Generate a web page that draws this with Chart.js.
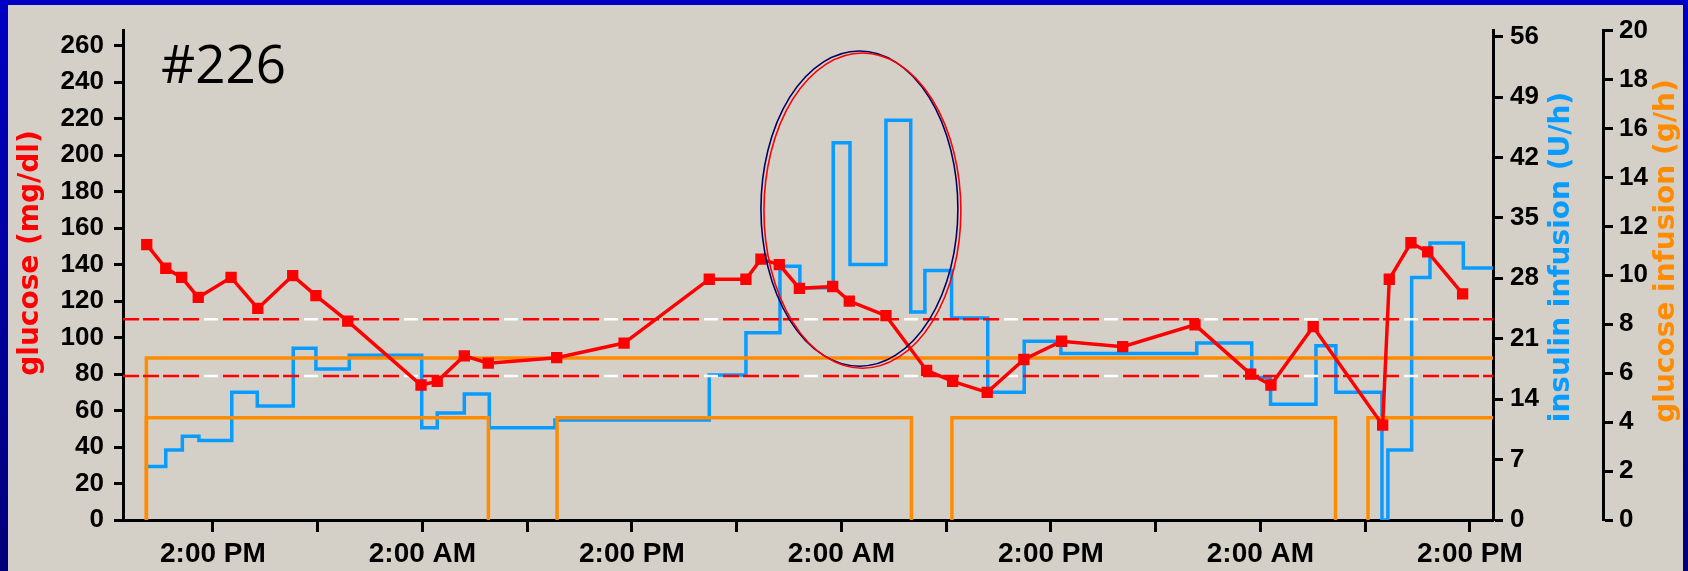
<!DOCTYPE html>
<html>
<head>
<meta charset="utf-8">
<script src="https://cdn.jsdelivr.net/npm/chart.js@4.4.1/dist/chart.umd.min.js"></script>
<style>
  html, body { margin: 0; padding: 0; }
  body {
    width: 1688px; height: 571px; overflow: hidden; position: relative;
    background: linear-gradient(#0000c4, #00007a);
  }
  #panel { position: absolute; left: 8px; top: 5px; width: 1675px; height: 566px; background: #d4d0c8; }
</style>
</head>
<body>
<div id="panel"><canvas id="icuChart"></canvas></div>
<script>
// hours counted from the first 2:00 PM
const glucoseHours = [-3.79, -2.70, -1.79, -0.84, 1.04, 2.57, 4.57, 5.90, 7.72, 11.92, 12.85, 14.40, 15.77,
  19.69, 23.55, 28.43, 30.53, 31.39, 32.44, 33.59, 35.50, 36.45, 38.55, 40.88, 42.37, 44.35, 46.45, 48.61,
  52.11, 56.25, 59.44, 60.60, 63.02, 67.00, 67.38, 68.62, 69.58, 71.58];
const glucoseValues = [151, 138, 133, 122, 133, 116, 134, 123, 109, 74, 76, 90, 86,
  89, 97, 132, 132, 143, 140, 127, 128, 120, 112, 82, 76, 70, 88, 98,
  95, 107, 80, 74, 106, 52, 132, 152, 147, 124];

// insulin infusion (U/h), each rate holds from its start hour to the next one
const insulinHours = [-3.72, -2.70, -1.75, -0.80, 1.08, 2.54, 4.60, 5.90, 7.81, 11.96, 12.85, 14.40, 15.83,
  19.59, 28.43, 30.53, 32.48, 33.62, 35.53, 36.49, 38.55, 39.97, 40.78, 42.31, 44.38, 46.47, 48.57,
  56.35, 59.50, 60.58, 63.18, 64.32, 66.96, 67.30, 68.66, 69.71, 71.62];
const insulinRates = [6.2, 8.1, 9.7, 9.2, 14.8, 13.2, 19.9, 17.5, 19.1, 10.7, 12.4, 14.6, 10.7,
  11.6, 16.8, 21.7, 29.4, 26.9, 43.7, 29.6, 46.3, 24.1, 28.9, 23.4, 14.8, 20.7, 19.3,
  20.5, 16.5, 13.4, 20.2, 14.8, 0, 8.1, 28.1, 32.1, 29.2];

// glucose infusion (g/h)
const feedStart = -3.81;
const feedRate = 6.62;
const dextroseRate = 4.18;
const dextroseOn = [[-3.81, 15.78], [19.71, 40.01], [42.33, 64.30], [66.16, null]];

const targetBand = [110, 79];
const xRange = [-5.15, 73.32];
const xTicks = [0, 6, 12, 18, 24, 30, 36, 42, 48, 54, 60, 66, 72];
const xTickLabels = ["2:00 PM", "", "2:00 AM", "", "2:00 PM", "", "2:00 AM", "", "2:00 PM", "", "2:00 AM", "", "2:00 PM"];
const highlight = { hour: 37.03, glucose: 170.7, rHours: 5.64, rGlucose: 86.4 };

const RED = "#ff0000";
const BLUE = "#0a9bff";
const ORANGE = "#ff8c00";
const tickFont = { family: "'Liberation Sans', Arial, sans-serif", size: 26, weight: "bold" };
const titleFont = "bold 28px 'DejaVu Sans', Verdana, sans-serif";

const glucosePoints = glucoseHours.map((x, i) => ({ x, y: glucoseValues[i] }));
const insulinPoints = insulinHours.map((x, i) => ({ x, y: insulinRates[i] }));
insulinPoints.push({ x: xRange[1], y: insulinRates[insulinRates.length - 1] });

const feedPoints = [{ x: feedStart, y: 0 }, { x: feedStart, y: feedRate }, { x: xRange[1], y: feedRate }];
const dextrosePoints = dextroseOn.flatMap(([on, off]) => {
  const pts = [{ x: on, y: 0 }, { x: on, y: dextroseRate }];
  if (off === null) pts.push({ x: xRange[1], y: dextroseRate });
  else pts.push({ x: off, y: dextroseRate }, { x: off, y: 0 }, { x: off, y: null });
  return pts;
});

const bandSets = targetBand.flatMap((g) => {
  const pts = [{ x: xRange[0], y: g }, { x: xRange[1], y: g }];
  return [
    { data: pts, yAxisID: "y", borderColor: RED, borderWidth: 2.5, borderDash: [16, 4, 16, 4, 16, 4, 16, 24], pointRadius: 0, order: 1 },
    { data: pts, yAxisID: "y", borderColor: "#ffffff", borderWidth: 2.5, borderDash: [14, 86], borderDashOffset: 19, pointRadius: 0, order: 1 },
  ];
});

const axisBase = (tickLength) => ({
  border: { display: true, color: "#000", width: 3 },
  grid: { drawOnChartArea: false, drawTicks: true, tickLength, tickColor: "#000", tickWidth: 3 },
});

const overlay = {
  id: "overlay",
  afterDatasetsDraw(chart) {
    const { ctx, scales } = chart;
    const cx = scales.x.getPixelForValue(highlight.hour);
    const cy = scales.y.getPixelForValue(highlight.glucose);
    const rx = scales.x.getPixelForValue(highlight.hour + highlight.rHours) - cx;
    const ry = cy - scales.y.getPixelForValue(highlight.glucose + highlight.rGlucose);
    ctx.save();
    ctx.lineWidth = 1.6;
    ctx.strokeStyle = "#000066";
    ctx.beginPath();
    ctx.ellipse(cx, cy, rx, ry, 0, 0, Math.PI * 2);
    ctx.stroke();
    ctx.strokeStyle = RED;
    ctx.beginPath();
    ctx.ellipse(cx + 3, cy + 2, rx, ry, 0, 0, Math.PI * 2);
    ctx.stroke();
    ctx.restore();
  },
  afterDraw(chart) {
    const { ctx } = chart;
    ctx.save();
    ctx.fillStyle = "#000";
    ctx.font = "53px 'Open Sans', sans-serif";
    ctx.textAlign = "left";
    ctx.textBaseline = "alphabetic";
    ctx.fillText("#226", 153, 78);

    const titles = [
      ["glucose (mg/dl)", RED, 23, 248],
      ["insulin infusion (U/h)", BLUE, 1554, 252],
      ["glucose infusion (g/h)", ORANGE, 1659, 246],
    ];
    ctx.font = titleFont;
    ctx.textAlign = "center";
    ctx.textBaseline = "middle";
    titles.forEach(([text, color, x, y]) => {
      ctx.save();
      ctx.translate(x, y);
      ctx.rotate(-Math.PI / 2);
      ctx.fillStyle = color;
      ctx.fillText(text, 0, 0);
      ctx.restore();
    });
    ctx.restore();
  },
};

new Chart(document.getElementById("icuChart"), {
  type: "line",
  data: {
    datasets: [
      {
        data: glucosePoints, yAxisID: "y", borderColor: RED, backgroundColor: RED, borderWidth: 3.5,
        pointStyle: "rect", pointRadius: 8, pointBorderWidth: 0, pointBackgroundColor: RED, order: 0,
      },
      ...bandSets,
      { data: feedPoints, yAxisID: "yGlu", borderColor: ORANGE, borderWidth: 3.5, pointRadius: 0, order: 2 },
      { data: dextrosePoints, yAxisID: "yGlu", borderColor: ORANGE, borderWidth: 3.5, pointRadius: 0, spanGaps: false, order: 2 },
      { data: insulinPoints, yAxisID: "yIns", borderColor: BLUE, borderWidth: 3.5, pointRadius: 0, stepped: "before", order: 3 },
    ],
  },
  options: {
    responsive: true,
    maintainAspectRatio: false,
    animation: false,
    layout: { padding: { top: 23, left: 0, right: 0, bottom: 0 } },
    plugins: { legend: { display: false }, tooltip: { enabled: false }, title: { display: false } },
    elements: { line: { tension: 0 } },
    scales: {
      x: {
        type: "linear",
        position: "bottom",
        min: xRange[0],
        max: xRange[1],
        ...axisBase(12),
        afterBuildTicks: (scale) => { scale.ticks = xTicks.map((value) => ({ value })); },
        afterFit: (scale) => { scale.height = 51; },
        ticks: {
          autoSkip: false, maxRotation: 0, padding: 5, color: "#000",
          font: { ...tickFont, size: 28 },
          callback: (value, index) => xTickLabels[index],
        },
      },
      y: {
        position: "left",
        min: 0,
        max: 268.3,
        ...axisBase(9),
        afterFit: (scale) => { scale.width = 115; },
        ticks: { stepSize: 20, includeBounds: false, padding: 10, color: "#000", font: tickFont },
      },
      yIns: {
        position: "right",
        weight: 0,
        min: 0,
        max: 56.7,
        ...axisBase(10),
        afterFit: (scale) => { scale.width = 110; },
        ticks: { stepSize: 7, includeBounds: false, padding: 7, color: "#000", font: tickFont },
      },
      yGlu: {
        position: "right",
        weight: 1,
        min: 0,
        max: 20,
        ...axisBase(10),
        afterFit: (scale) => { scale.width = 80; },
        ticks: { stepSize: 2, padding: 6, color: "#000", font: tickFont },
      },
    },
  },
  plugins: [overlay],
});
</script>
</body>
</html>
